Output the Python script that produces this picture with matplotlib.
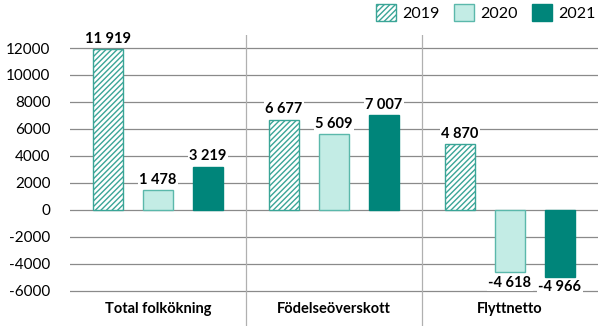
import numpy as np
from matplotlib import pyplot as plt
from matplotlib.patches import Patch

# data
categories = ['Total folkökning', 'Födelseöverskott', 'Flyttnetto']
years = ['2019', '2020', '2021']
v2019 = [11919, 6677, 4870]
v2020 = [1478, 5609, -4618]
v2021 = [3219, 7007, -4966]
yticks = [-6000, -4000, -2000, 0, 2000, 4000, 6000, 8000, 10000, 12000]

plt.rcParams['font.family'] = ['Lato', 'DejaVu Sans']
plt.rcParams['hatch.linewidth'] = 1.0

teal = '#3aa597'
light = '#c3ece5'
dark = '#00857a'

fig = plt.figure(figsize=(6, 3.26), dpi=100)
ax = fig.add_axes([70/600, 0, 528/600, (326-35)/326])

x = np.arange(len(categories))
w = 0.17
off = 0.284

series = [v2019, v2020, v2021]
for i, vals in enumerate(series):
    pos = x + (i - 1) * off
    if i == 0:
        bars = ax.bar(pos, vals, w, color='white', edgecolor=teal, hatch='//////', linewidth=1, zorder=3)
    elif i == 1:
        bars = ax.bar(pos, vals, w, color=light, edgecolor='#5bb8ab', linewidth=1, zorder=3)
    else:
        bars = ax.bar(pos, vals, w, color=dark, edgecolor=dark, linewidth=1, zorder=3)
    for p, v in zip(pos, vals):
        txt = '{:,}'.format(v).replace(',', ' ')
        if v >= 0:
            ax.text(p, v + 250, txt, ha='center', va='bottom', fontsize=10.5, fontweight='bold',
                    bbox=dict(facecolor='white', edgecolor='none', pad=1), zorder=4)
        else:
            ax.text(p, v - 250, txt, ha='center', va='top', fontsize=10.5, fontweight='bold',
                    bbox=dict(facecolor='white', edgecolor='none', pad=1), zorder=4)

ax.set_xlim(-0.5, 2.5)
ax.set_ylim(-8593, 12963)
ax.set_yticks(yticks)
ax.set_yticklabels([str(t) for t in yticks], fontsize=11)
ax.tick_params(axis='y', length=0, pad=14)
ax.set_xticks([])
for s in ax.spines.values():
    s.set_visible(False)

for t in yticks:
    ax.axhline(t, color='#8a8a8a', linewidth=0.9, zorder=1)
for sx in [0.5, 1.5]:
    ax.axvline(sx, color='#b0b0b0', linewidth=0.9, zorder=1)

for xi, c in zip(x, categories):
    ax.text(xi, -7300, c, ha='center', va='center', fontsize=10.5, fontweight='bold')

handles = [Patch(facecolor='white', edgecolor=teal, hatch='//////'),
           Patch(facecolor=light, edgecolor='#5bb8ab'),
           Patch(facecolor=dark, edgecolor=dark)]
fig.legend(handles, years, loc='upper right', bbox_to_anchor=(1.0, 1.0), ncol=3, frameon=False,
           fontsize=11.5, handlelength=1.25, handleheight=1.25, handletextpad=0.4, columnspacing=0.9,
           borderaxespad=0.05, borderpad=0.2)

plt.savefig('out.png')
